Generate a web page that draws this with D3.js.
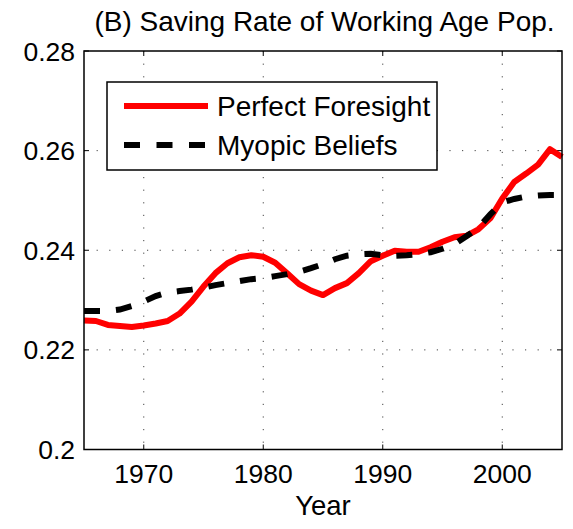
<!DOCTYPE html>
<html><head><meta charset="utf-8">
<script src="https://d3js.org/d3.v7.min.js"></script>
<style>body{margin:0;background:#fff}svg{display:block}text{font-family:"Liberation Sans",Arial,sans-serif;fill:#000}</style>
</head><body><svg id="c" width="573" height="529"></svg>
<script>
const years = d3.range(1965, 2006);
const perfectForesight = [0.2259,0.2258,0.2250,0.2248,0.2246,0.2249,0.2253,0.2258,0.2273,0.2297,0.2327,0.2354,0.2374,0.2386,0.2390,0.2387,0.2375,0.2354,0.2332,0.2319,0.2310,0.2324,0.2334,0.2354,0.2378,0.2389,0.2399,0.2397,0.2397,0.2406,0.2417,0.2426,0.2429,0.2442,0.2464,0.2504,0.2537,0.2554,0.2572,0.2603,0.2587];
const myopicBeliefs = [0.2278,0.2278,0.2278,0.2281,0.2288,0.2297,0.2308,0.2315,0.2318,0.2321,0.2325,0.2330,0.2334,0.2338,0.2342,0.2344,0.2348,0.2352,0.2357,0.2364,0.2372,0.2382,0.2389,0.2392,0.2393,0.2390,0.2389,0.2390,0.2392,0.2396,0.2403,0.2412,0.2428,0.2445,0.2472,0.2496,0.2503,0.2508,0.2510,0.2511,0.2511];
const xTicks = [1970, 1980, 1990, 2000];
const yTicks = [0.2, 0.22, 0.24, 0.26, 0.28];
const seriesNames = ["Perfect Foresight", "Myopic Beliefs"];
const title = "(B) Saving Rate of Working Age Pop.";
const xLabel = "Year";

const L = 84, R = 562, T = 51, B = 449.5;
const svg = d3.select("#c");
const x = d3.scaleLinear().domain([1965, 2005]).range([L, R]);
const y = d3.scaleLinear().domain([0.2, 0.28]).range([B, T]);

// grid
const g = svg.append("g");
g.selectAll(".vg").data(xTicks).join("line")
  .attr("x1", d => x(d)).attr("x2", d => x(d)).attr("y1", T).attr("y2", B)
  .attr("stroke", "#444").attr("stroke-width", 1).attr("stroke-dasharray", "1.2,11.4");
g.selectAll(".hg").data(yTicks.slice(1, -1)).join("line")
  .attr("y1", d => y(d)).attr("y2", d => y(d)).attr("x1", L).attr("x2", R)
  .attr("stroke", "#444").attr("stroke-width", 1).attr("stroke-dasharray", "1.2,11.4");

// ticks inward on all sides
const tl = 5;
xTicks.forEach(t => {
  svg.append("line").attr("x1", x(t)).attr("x2", x(t)).attr("y1", B).attr("y2", B - tl).attr("stroke", "#000");
  svg.append("line").attr("x1", x(t)).attr("x2", x(t)).attr("y1", T).attr("y2", T + tl).attr("stroke", "#000");
});
yTicks.forEach(t => {
  svg.append("line").attr("y1", y(t)).attr("y2", y(t)).attr("x1", L).attr("x2", L + tl).attr("stroke", "#000");
  svg.append("line").attr("y1", y(t)).attr("y2", y(t)).attr("x1", R).attr("x2", R - tl).attr("stroke", "#000");
});

// lines
const line = d3.line().x((d, i) => x(years[i])).y(d => y(d));
svg.append("path").datum(perfectForesight).attr("d", line)
  .attr("fill", "none").attr("stroke", "#ff0000").attr("stroke-width", 6).attr("stroke-linejoin", "round");
svg.append("path").datum(myopicBeliefs).attr("d", line)
  .attr("fill", "none").attr("stroke", "#000").attr("stroke-width", 6).attr("stroke-dasharray", "16,16");

// frame
svg.append("rect").attr("x", L).attr("y", T).attr("width", R - L).attr("height", B - T)
  .attr("fill", "none").attr("stroke", "#000").attr("stroke-width", 1.5);

// tick labels
svg.selectAll(".xl").data(xTicks).join("text")
  .attr("x", d => x(d)).attr("y", 483).attr("text-anchor", "middle").attr("font-size", 26.5)
  .text(d => d);
svg.selectAll(".yl").data(yTicks).join("text")
  .attr("x", 75).attr("y", d => y(d) + 9.5).attr("text-anchor", "end").attr("font-size", 26.5)
  .text(d => d3.format("")(d));
svg.append("text").attr("x", (L + R) / 2).attr("y", 515).attr("text-anchor", "middle").attr("font-size", 27.5).text(xLabel);
svg.append("text").attr("x", 324.5).attr("y", 31).attr("text-anchor", "middle").attr("font-size", 28).text(title);

// legend
const lg = svg.append("g");
lg.append("rect").attr("x", 107).attr("y", 82).attr("width", 330).attr("height", 88)
  .attr("fill", "#fff").attr("stroke", "#000").attr("stroke-width", 1.5);
const ly = [106, 145];
lg.append("line").attr("x1", 124).attr("x2", 208).attr("y1", ly[0]).attr("y2", ly[0]).attr("stroke", "#ff0000").attr("stroke-width", 6);
lg.append("line").attr("x1", 124).attr("x2", 208).attr("y1", ly[1]).attr("y2", ly[1]).attr("stroke", "#000").attr("stroke-width", 6).attr("stroke-dasharray", "16,16.5");
seriesNames.forEach((n, i) => {
  lg.append("text").attr("x", 217).attr("y", ly[i] + 10).attr("font-size", 28).text(n);
});
</script></body></html>
